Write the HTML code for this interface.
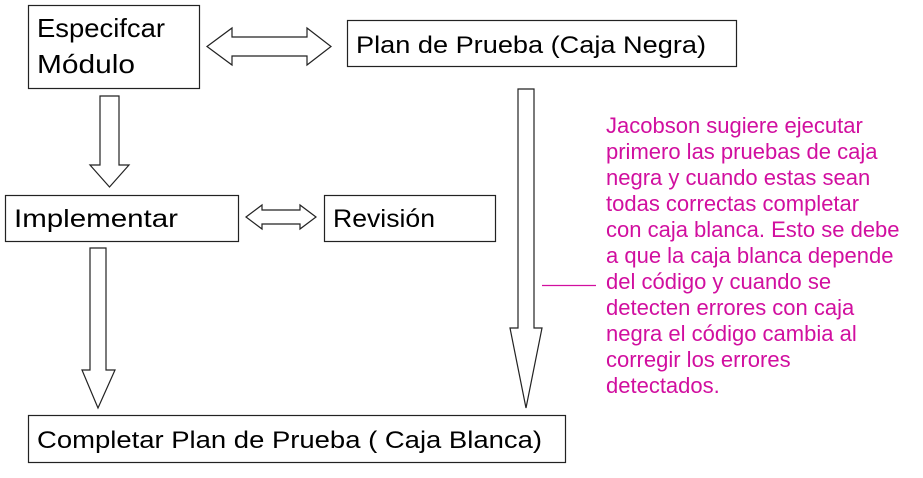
<!DOCTYPE html>
<html><head><meta charset="utf-8"><style>
html,body{margin:0;padding:0;background:#fff;}
svg{display:block;}
text{font-family:"Liberation Sans",sans-serif;}
</style></head><body>
<svg width="923" height="478" viewBox="0 0 923 478" xmlns="http://www.w3.org/2000/svg">
<g fill="#fff" stroke="#222" stroke-width="1.2">
<rect x="28.5" y="5.5" width="171" height="83"/>
<rect x="347.5" y="20.5" width="389" height="46"/>
<rect x="5.5" y="195.5" width="233" height="46"/>
<rect x="324.5" y="195.5" width="171" height="46"/>
<rect x="28.5" y="415.5" width="537" height="47"/>
<polygon points="207,46.5 232,28 232,37 307,37 307,28 331,46.5 307,65 307,56 232,56 232,65"/>
<polygon points="246,217 262,205 262,210 300,210 300,205 316,217 300,229 300,224 262,224 262,229"/>
<polygon points="100,96 119,96 119,165 129,165 109.5,187 90,165 100,165"/>
<polygon points="90,248 106,248 106,370 115,370 98,408 82,370 90,370"/>
<polygon points="518,89 534,89 534,328 542,328 526,408 510,328 518,328"/>
</g>
<line x1="542" y1="285.5" x2="596" y2="285.5" stroke="#d10f9f" stroke-width="1.2"/>
<g fill="#000" font-size="26">
<text x="37" y="37" textLength="128" lengthAdjust="spacingAndGlyphs">Especifcar</text>
<text x="37" y="73" textLength="98" lengthAdjust="spacingAndGlyphs">Módulo</text>
<text x="356" y="53" font-size="24" textLength="350" lengthAdjust="spacingAndGlyphs">Plan de Prueba (Caja Negra)</text>
<text x="14" y="227" font-size="25" textLength="164" lengthAdjust="spacingAndGlyphs">Implementar</text>
<text x="333" y="227" font-size="25" textLength="102" lengthAdjust="spacingAndGlyphs">Revisión</text>
<text x="37" y="448" font-size="24" textLength="505" lengthAdjust="spacingAndGlyphs">Completar Plan de Prueba ( Caja Blanca)</text>
</g>
<g fill="#d10f9f" font-size="22">
<text x="606" y="133">Jacobson sugiere ejecutar</text>
<text x="606" y="159">primero las pruebas de caja</text>
<text x="606" y="185">negra y cuando estas sean</text>
<text x="606" y="211">todas correctas completar</text>
<text x="606" y="237">con caja blanca. Esto se debe</text>
<text x="606" y="263">a que la caja blanca depende</text>
<text x="606" y="289">del código y cuando se</text>
<text x="606" y="315">detecten errores con caja</text>
<text x="606" y="341">negra el código cambia al</text>
<text x="606" y="367">corregir los errores</text>
<text x="606" y="393">detectados.</text>
</g>
</svg>
</body></html>
